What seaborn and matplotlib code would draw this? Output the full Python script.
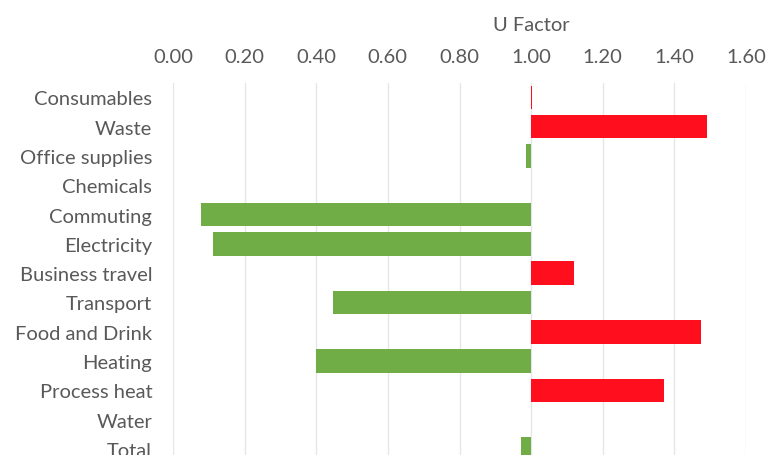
import matplotlib
matplotlib.use('Agg')
import numpy as np
import pandas as pd
import matplotlib.pyplot as plt
import seaborn as sns

categories = ['Consumables', 'Waste', 'Office supplies', 'Chemicals', 'Commuting',
              'Electricity', 'Business travel', 'Transport', 'Food and Drink',
              'Heating', 'Process heat', 'Water', 'Total']
u_factor = [1.003, 1.492, 0.986, 1.0, 0.077, 0.112, 1.121, 0.446, 1.474,
            0.40, 1.371, 1.0, 0.971]
baseline = 1.0
tick_values = [0.0, 0.2, 0.4, 0.6, 0.8, 1.0, 1.2, 1.4, 1.6]

df = pd.DataFrame({'Category': categories, 'U': u_factor})
df['Delta'] = df['U'] - baseline
df['Direction'] = np.where(df['U'] > baseline, 'Up', 'Down')

sns.set_theme(style='white')
plt.rcParams['font.family'] = ['Lato', 'DejaVu Sans']
text_color = '#595959'
fs = 14.5

fig = plt.figure(figsize=(7.67, 4.56), dpi=100)
ax = fig.add_axes([173 / 767, 0, 573 / 767, 1 - 83.7 / 456])

sns.barplot(data=df, x='Delta', y='Category', hue='Direction', orient='y',
            palette={'Up': '#FF0E1E', 'Down': '#70AD47'}, saturation=1,
            dodge=False, legend=False, errorbar=None, width=0.8,
            left=baseline, linewidth=0, ax=ax)

ax.set_xlim(0, 1.6)
ax.set_ylim(12 + 6 / 29.3, -0.5)
ax.xaxis.tick_top()
ax.set_xticks(tick_values)
ax.set_xticklabels([f'{v:.2f}' for v in tick_values])
ax.tick_params(axis='x', length=0, pad=13, labelsize=fs, colors=text_color)
ax.tick_params(axis='y', length=0, pad=15, labelsize=fs, colors=text_color)
ax.set_ylabel('')
ax.set_xlabel('U Factor', fontsize=fs, color=text_color)
ax.xaxis.set_label_position('top')
ax.xaxis.set_label_coords(1.0 / 1.6, 1 + 58.7 / 372.3)
ax.xaxis.label.set_verticalalignment('center')

ax.grid(axis='x', color='#E6E6E6', linewidth=1)
ax.grid(axis='y', visible=False)
ax.set_axisbelow(True)
for s in ax.spines.values():
    s.set_visible(False)

fig.savefig('out.png', dpi=100)
